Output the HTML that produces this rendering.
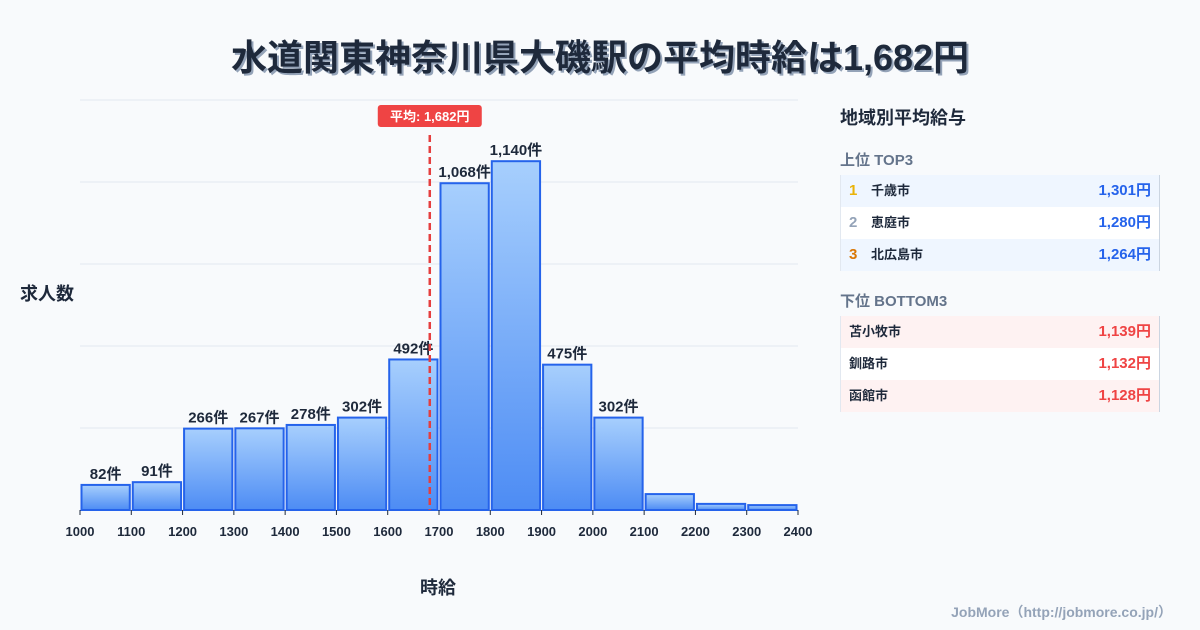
<!DOCTYPE html>
<html><head><meta charset="utf-8">
<style>
body{margin:0;width:1200px;height:630px;background:#f8fafc;font-family:"Liberation Sans","Noto Sans CJK JP",sans-serif;position:relative;overflow:hidden;color:#1e293b}
.t{position:absolute;white-space:nowrap}
.row{position:absolute;left:840px;width:320px;height:32px;border-right:1px solid #cbd5e1;border-left:1px solid #e2e8f0;box-sizing:border-box;font-weight:bold}
.row span{position:absolute;top:0;line-height:32px;font-size:13px}
.row .v{right:8px;font-size:15px}
</style></head><body>
<div class="t" style="left:0;width:1200px;text-align:center;top:29px;font-size:36px;font-weight:bold;color:#1e293b;text-shadow:2px 2px 0 #94a3b8">水道関東神奈川県大磯駅の平均時給は1,682円</div>
<div class="t" style="left:20px;top:280px;font-size:18px;font-weight:bold">求人数</div>
<div class="t" style="left:420px;top:574px;font-size:18px;font-weight:bold">時給</div>
<svg id="chart" width="1200" height="630" style="position:absolute;left:0;top:0">
<defs><linearGradient id="g" x1="0" y1="0" x2="0" y2="1"><stop offset="0" stop-color="#a7cffd"/><stop offset="1" stop-color="#4d8cf4"/></linearGradient></defs>
</svg>
<div class="t" style="left:840px;top:104px;font-size:18px;font-weight:bold">地域別平均給与</div>
<div class="t" style="left:840px;top:149px;font-size:15px;font-weight:bold;color:#64748b">上位 TOP3</div>
<div class="row" style="top:175px;background:#eff6ff"><span style="left:8px;color:#eab308;font-size:15px">1</span><span style="left:30px">千歳市</span><span class="v" style="color:#2563eb">1,301円</span></div>
<div class="row" style="top:207px;background:#fff"><span style="left:8px;color:#94a3b8;font-size:15px">2</span><span style="left:30px">恵庭市</span><span class="v" style="color:#2563eb">1,280円</span></div>
<div class="row" style="top:239px;background:#eff6ff"><span style="left:8px;color:#d97706;font-size:15px">3</span><span style="left:30px">北広島市</span><span class="v" style="color:#2563eb">1,264円</span></div>
<div class="t" style="left:840px;top:290px;font-size:15px;font-weight:bold;color:#64748b">下位 BOTTOM3</div>
<div class="row" style="top:316px;background:#fef2f2"><span style="left:8px">苫小牧市</span><span class="v" style="color:#ef4444">1,139円</span></div>
<div class="row" style="top:348px;background:#fff"><span style="left:8px">釧路市</span><span class="v" style="color:#ef4444">1,132円</span></div>
<div class="row" style="top:380px;background:#fef2f2"><span style="left:8px">函館市</span><span class="v" style="color:#ef4444">1,128円</span></div>
<div class="t" style="right:28px;top:602px;font-size:14px;font-weight:bold;color:#94a3b8">JobMore（http://jobmore.co.jp/）</div>
<script>
const binStarts=[1000,1100,1200,1300,1400,1500,1600,1700,1800,1900,2000,2100,2200,2300];
const counts=[82,91,266,267,278,302,492,1068,1140,475,302,52,20,16];
const showLabel=[1,1,1,1,1,1,1,1,1,1,1,0,0,0];
const xTicks=[1000,1100,1200,1300,1400,1500,1600,1700,1800,1900,2000,2100,2200,2300,2400];
const meanValue=1682;
const yMax=1340;
const NS="http://www.w3.org/2000/svg";
const svg=document.getElementById('chart');
const x0=80,x1=798,yb=510,yt=100;
const X=v=>x0+(v-1000)/(2400-1000)*(x1-x0);
const Y=v=>yb-v/yMax*(yb-yt);
function mk(t,a){const e=document.createElementNS(NS,t);for(const k in a)e.setAttribute(k,a[k]);svg.appendChild(e);return e;}
for(let i=0;i<=5;i++){const y=Y(yMax*i/5);
const l=mk('line',{x1:x0,x2:x1,y1:y,y2:y,stroke:'#e2e8f0','stroke-width':1});

}
binStarts.forEach((b,i)=>{
const xa=X(b)+1.5,xb=X(b+100)-1.5,y=Y(counts[i]);
const r=mk('rect',{x:xa,y:y,width:xb-xa,height:yb-y,fill:'url(#g)',stroke:'#2563eb','stroke-width':2});


if(showLabel[i]){const t=mk('text',{x:(xa+xb)/2,y:y-6,'text-anchor':'middle','font-size':15,'font-weight':'bold',fill:'#1e293b'});
t.textContent=counts[i].toLocaleString('en-US')+'件';

}
});
xTicks.forEach(v=>{const x=X(v);
const l=mk('line',{x1:x,x2:x,y1:yb,y2:yb+5,stroke:'#1e293b','stroke-width':1});


const t=mk('text',{x:x,y:yb+26,'text-anchor':'middle','font-size':13,'font-weight':'bold',fill:'#1e293b'});
t.textContent=v;

});
const mx=X(meanValue);
const ml=mk('line',{x1:mx,x2:mx,y1:135,y2:yb,stroke:'#e53e3e','stroke-width':2.5,'stroke-dasharray':'7,4'});


const mb=mk('rect',{x:mx-52,y:105,width:104,height:22,rx:3,fill:'#ef4444'});


const mt=mk('text',{x:mx,y:121,'text-anchor':'middle','font-size':13,'font-weight':'bold',fill:'#fff'});
mt.textContent='平均: '+meanValue.toLocaleString('en-US')+'円';


</script>
</body></html>
